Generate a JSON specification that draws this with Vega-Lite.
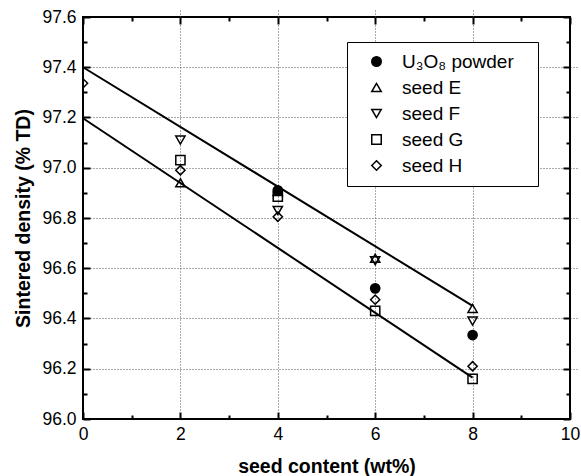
{
  "$schema": "https://vega.github.io/schema/vega-lite/v6.json",
  "width": 487,
  "height": 402,
  "autosize": {"type": "none"},
  "padding": {"left": 83, "top": 17, "right": 11, "bottom": 57},
  "config": {
    "font": "Liberation Sans",
    "view": {"stroke": "black", "strokeWidth": 2},
    "axis": {
      "domain": false,
      "offset": -7,
      "tickColor": "black",
      "tickWidth": 2,
      "tickSize": 7,
      "labelColor": "black",
      "labelFont": "Liberation Sans",
      "labelFontSize": 17.5,
      "titleFont": "Liberation Sans",
      "titleFontSize": 19.5,
      "titleFontWeight": "bold",
      "titleColor": "black",
      "gridColor": "#555",
      "gridWidth": 1
    }
  },
  "datasets": {
    "points": [
      {"seed": 0, "density": 97.336, "series": "seed H"},
      {"seed": 2, "density": 97.11, "series": "seed F"},
      {"seed": 2, "density": 97.03, "series": "seed G"},
      {"seed": 2, "density": 96.99, "series": "seed H"},
      {"seed": 2, "density": 96.94, "series": "seed E"},
      {"seed": 4, "density": 96.91, "series": "U₃O₈ powder"},
      {"seed": 4, "density": 96.905, "series": "seed E"},
      {"seed": 4, "density": 96.885, "series": "seed G"},
      {"seed": 4, "density": 96.83, "series": "seed F"},
      {"seed": 4, "density": 96.805, "series": "seed H"},
      {"seed": 6, "density": 96.64, "series": "seed E"},
      {"seed": 6, "density": 96.63, "series": "seed F"},
      {"seed": 6, "density": 96.52, "series": "U₃O₈ powder"},
      {"seed": 6, "density": 96.475, "series": "seed H"},
      {"seed": 6, "density": 96.43, "series": "seed G"},
      {"seed": 8, "density": 96.44, "series": "seed E"},
      {"seed": 8, "density": 96.39, "series": "seed F"},
      {"seed": 8, "density": 96.334, "series": "U₃O₈ powder"},
      {"seed": 8, "density": 96.21, "series": "seed H"},
      {"seed": 8, "density": 96.16, "series": "seed G"}
    ],
    "fits": [
      {"seed": 0, "density": 97.40, "fit": "upper"},
      {"seed": 8, "density": 96.45, "fit": "upper"},
      {"seed": 0, "density": 97.197, "fit": "lower"},
      {"seed": 8, "density": 96.165, "fit": "lower"}
    ]
  },
  "layer": [
    {
      "data": {"name": "points"},
      "mark": {"type": "point", "stroke": "black", "strokeWidth": 1.5, "size": 85, "opacity": 1, "clip": true},
      "encoding": {
        "x": {
          "field": "seed", "type": "quantitative",
          "scale": {"domain": [0, 10], "nice": false, "zero": false},
          "axis": {
            "orient": "bottom",
            "title": "seed content (wt%)",
            "titlePadding": 15,
            "values": [0, 1, 2, 3, 4, 5, 6, 7, 8, 9, 10],
            "labelExpr": "datum.value === 0 || datum.value === 2 || datum.value === 4 || datum.value === 6 || datum.value === 8 || datum.value === 10 ? datum.label : ''",
            "grid": true,
            "gridDash": [1, 2],
            "gridOpacity": {"condition": {"test": "datum.value === 2 || datum.value === 4 || datum.value === 6 || datum.value === 8", "value": 1}, "value": 0},
            "tickDash": {"condition": {"test": "datum.value === 1 || datum.value === 3 || datum.value === 5 || datum.value === 7 || datum.value === 9", "value": [0, 3, 4, 30]}, "value": [30, 1]},
            "labelPadding": 6,
            "labelFlush": false
          }
        },
        "y": {
          "field": "density", "type": "quantitative",
          "scale": {"domain": [96.0, 97.6], "nice": false, "zero": false},
          "axis": {
            "orient": "left",
            "title": "Sintered density (% TD)",
            "titlePadding": 8,
            "values": [96.0, 96.1, 96.2, 96.3, 96.4, 96.5, 96.6, 96.7, 96.8, 96.9, 97.0, 97.1, 97.2, 97.3, 97.4, 97.5, 97.6],
            "labelExpr": "abs(round(datum.value * 10) - 2 * floor(round(datum.value * 10) / 2)) < 0.5 ? format(datum.value, '.1f') : ''",
            "grid": true,
            "gridDash": [1, 2],
            "gridOpacity": {"condition": {"test": "abs(round(datum.value * 10) - 2 * floor(round(datum.value * 10) / 2)) < 0.5 && datum.value > 96.05 && datum.value < 97.55", "value": 1}, "value": 0},
            "tickDash": {"condition": {"test": "abs(round(datum.value * 10) - 2 * floor(round(datum.value * 10) / 2)) > 0.5", "value": [0, 3, 4, 30]}, "value": [30, 1]},
            "labelPadding": 7,
            "labelFlush": false
          }
        },
        "shape": {
          "field": "series", "type": "nominal",
          "scale": {
            "domain": ["U₃O₈ powder", "seed E", "seed F", "seed G", "seed H"],
            "range": ["circle", "triangle-up", "triangle-down", "square", "diamond"]
          },
          "legend": {
            "title": " ",
            "titleOrient": "right",
            "titlePadding": 14,
            "orient": "none",
            "legendX": 264,
            "legendY": 25,
            "padding": 10,
            "strokeColor": "black",
            "fillColor": "white",
            "labelFontSize": 19,
            "labelFont": "Liberation Sans",
            "labelColor": "black",
            "rowPadding": 6,
            "symbolSize": 90,
            "symbolOffset": 10,
            "symbolStrokeWidth": 1.5,
            "symbolStrokeColor": "black",
            "labelOffset": 16,
            "encoding": {"symbols": {"stroke": {"value": "black"}, "strokeWidth": {"value": 1.5}}}
          }
        },
        "fill": {
          "field": "series", "type": "nominal",
          "scale": {
            "domain": ["U₃O₈ powder", "seed E", "seed F", "seed G", "seed H"],
            "range": ["black", "transparent", "transparent", "transparent", "transparent"]
          },
          "legend": {
            "title": " ",
            "titleOrient": "right",
            "titlePadding": 14,
            "orient": "none",
            "legendX": 264,
            "legendY": 25,
            "padding": 10,
            "strokeColor": "black",
            "fillColor": "white",
            "labelFontSize": 19,
            "labelFont": "Liberation Sans",
            "labelColor": "black",
            "rowPadding": 6,
            "symbolSize": 90,
            "symbolOffset": 10,
            "symbolStrokeWidth": 1.5,
            "symbolStrokeColor": "black",
            "labelOffset": 16,
            "encoding": {"symbols": {"stroke": {"value": "black"}, "strokeWidth": {"value": 1.5}}}
          }
        }
      }
    },
    {
      "data": {"name": "fits"},
      "mark": {"type": "line", "color": "black", "strokeWidth": 2},
      "encoding": {
        "x": {
          "field": "seed", "type": "quantitative",
          "scale": {"domain": [0, 10], "nice": false, "zero": false},
          "axis": {
            "orient": "top",
            "title": null,
            "labels": false,
            "grid": false,
            "values": [0, 1, 2, 3, 4, 5, 6, 7, 8, 9, 10],
            "tickDash": {"condition": {"test": "datum.value === 1 || datum.value === 3 || datum.value === 5 || datum.value === 7 || datum.value === 9", "value": [0, 3, 4, 30]}, "value": [30, 1]}
          }
        },
        "y": {
          "field": "density", "type": "quantitative",
          "scale": {"domain": [96.0, 97.6], "nice": false, "zero": false},
          "axis": {
            "orient": "right",
            "title": null,
            "labels": false,
            "grid": false,
            "values": [96.0, 96.1, 96.2, 96.3, 96.4, 96.5, 96.6, 96.7, 96.8, 96.9, 97.0, 97.1, 97.2, 97.3, 97.4, 97.5, 97.6],
            "tickDash": {"condition": {"test": "abs(round(datum.value * 10) - 2 * floor(round(datum.value * 10) / 2)) > 0.5", "value": [0, 3, 4, 30]}, "value": [30, 1]}
          }
        },
        "detail": {"field": "fit", "type": "nominal"}
      }
    }
  ],
  "resolve": {"axis": {"x": "independent", "y": "independent"}}
}
